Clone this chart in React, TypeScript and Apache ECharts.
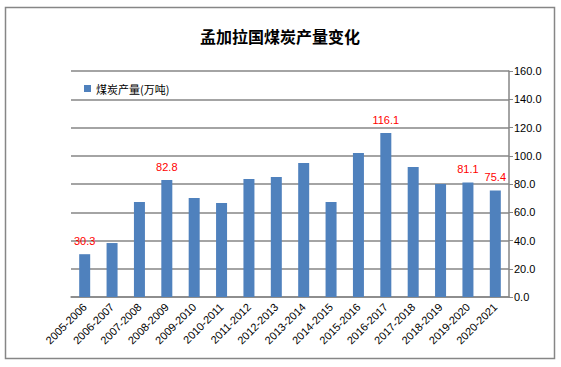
import React, { useEffect, useRef } from "react";
import * as echarts from "echarts";

const categories = [
  "2005-2006", "2006-2007", "2007-2008", "2008-2009", "2009-2010", "2010-2011",
  "2011-2012", "2012-2013", "2013-2014", "2014-2015", "2015-2016", "2016-2017",
  "2017-2018", "2018-2019", "2019-2020", "2020-2021",
];
const production = [30.3, 38.2, 67.3, 82.8, 70.1, 66.5, 83.5, 85.0, 94.9, 67.3, 101.9, 116.1, 92.0, 80.0, 81.1, 75.4];
const labeledIndices = [0, 3, 11, 14, 15];
const seriesName = "煤炭产量(万吨)";
const titleText = "孟加拉国煤炭产量变化";

export default function App() {
  const ref = useRef<HTMLDivElement>(null);
  useEffect(() => {
    document.body.style.margin = "0";
    if (!ref.current) return;
    const chart = echarts.init(ref.current, null, { renderer: "svg" });
    const font = "'Liberation Sans', Arial, 'Noto Sans CJK SC', sans-serif";
    chart.setOption({
      animation: false,
      backgroundColor: "#fff",
      textStyle: { fontFamily: font },
      title: {
        text: titleText,
        left: 275,
        textAlign: "center",
        top: 23,
        textStyle: { fontSize: 16, fontWeight: "bold", color: "#000", fontFamily: "'Noto Sans CJK SC', sans-serif" },
      },
      legend: {
        left: 79,
        top: 78,
        itemWidth: 7,
        itemHeight: 7,
        itemGap: 4,
        icon: "rect",
        textStyle: { fontSize: 11, color: "#000", fontFamily: "'Noto Sans CJK SC', sans-serif" },
        data: [seriesName],
      },
      graphic: [
        {
          type: "rect",
          shape: { x: 5.5, y: 7.5, width: 549, height: 351 },
          style: { fill: "none", stroke: "#868686", lineWidth: 1.5 },
          silent: true,
        },
      ],
      grid: { left: 71, right: 52, top: 71, bottom: 70, containLabel: false },
      xAxis: {
        type: "category",
        data: categories,
        axisLine: { lineStyle: { color: "#868686", width: 1.5 } },
        axisTick: { show: false },
        axisLabel: {
          rotate: 45,
          interval: 0,
          fontSize: 11,
          color: "#000",
          margin: 8,
          fontFamily: font,
        },
      },
      yAxis: {
        type: "value",
        position: "right",
        min: 0,
        max: 160,
        interval: 20,
        axisLine: { show: true, lineStyle: { color: "#868686", width: 1.5 } },
        axisTick: { show: true, inside: false, length: 4, lineStyle: { color: "#868686" } },
        axisLabel: {
          formatter: (v: number) => v.toFixed(1),
          fontSize: 11,
          color: "#000",
          margin: 5,
          fontFamily: font,
        },
        splitLine: { lineStyle: { color: "#868686", width: 1.5 } },
      },
      series: [
        {
          name: seriesName,
          type: "bar",
          barWidth: 11,
          itemStyle: { color: "#4F81BD" },
          data: production.map((v, i) => ({
            value: v,
            label: {
              show: labeledIndices.includes(i),
              position: "top",
              distance: 8,
              color: "#FF0000",
              fontSize: 11,
              fontFamily: font,
              formatter: (p: any) => Number(p.value).toFixed(1),
            },
          })),
        },
      ],
    });
    return () => chart.dispose();
  }, []);
  return <div ref={ref} style={{ width: 561, height: 367 }} />;
}
